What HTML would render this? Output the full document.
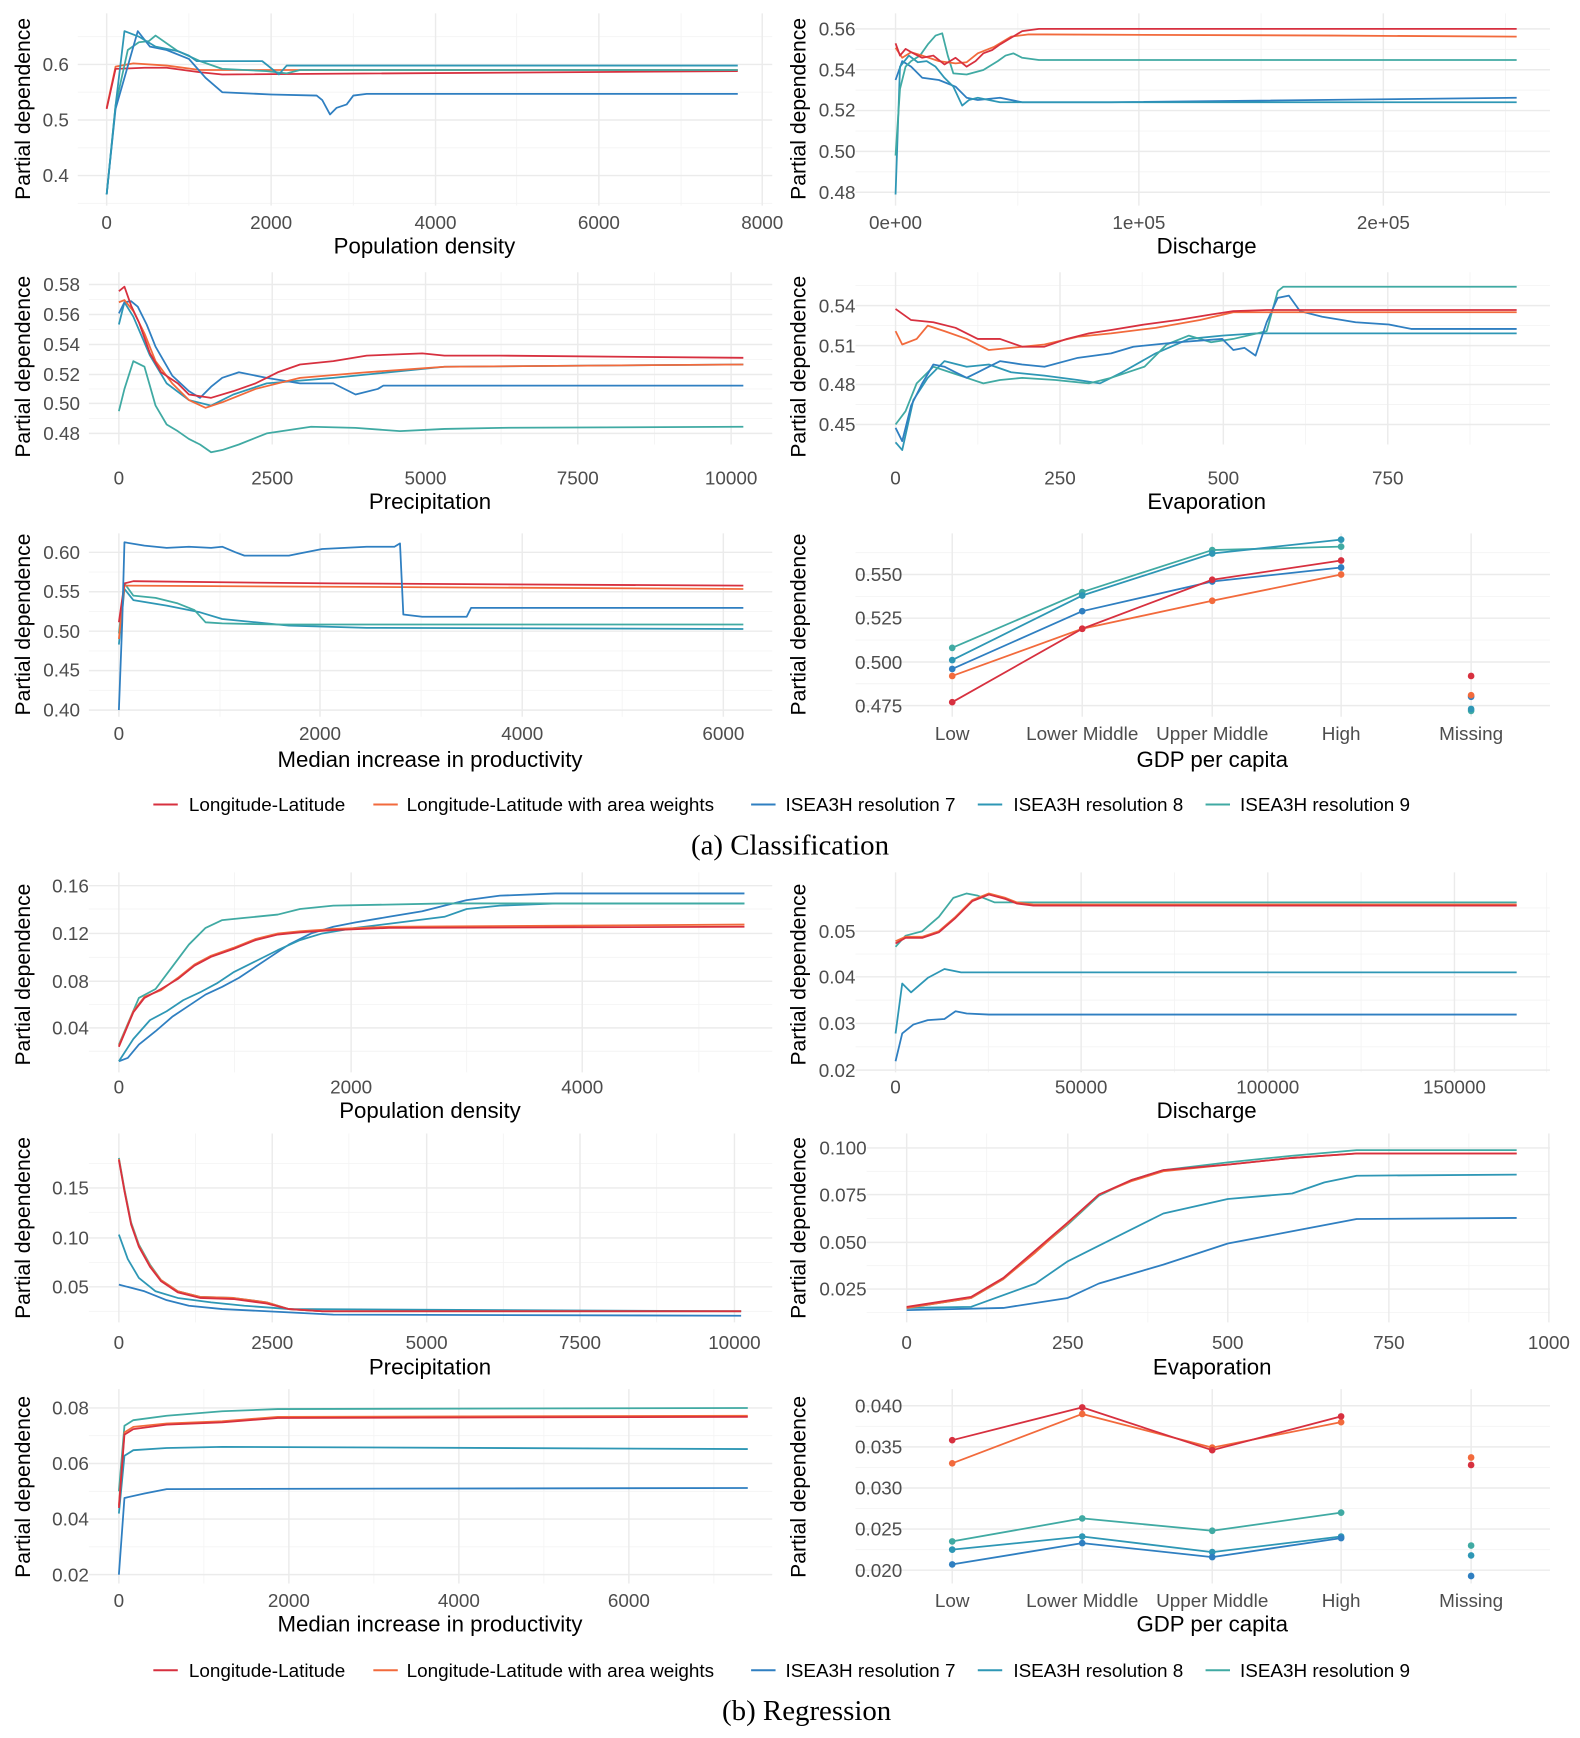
<!DOCTYPE html>
<html><head><meta charset="utf-8"><style>
html,body{margin:0;padding:0;background:#fff}
svg{display:block}
.t{font-family:"Liberation Sans Narrow","Liberation Sans",sans-serif;font-stretch:condensed;font-size:17px;fill:#4d4d4d}
.ti{font-family:"Liberation Sans Narrow","Liberation Sans",sans-serif;font-stretch:condensed;font-size:20px;fill:#000}
.yt{font-family:"Liberation Sans",sans-serif;font-size:19px;fill:#000}
.lg{font-family:"Liberation Sans Narrow","Liberation Sans",sans-serif;font-stretch:condensed;font-size:17px;fill:#000}
.cap{font-family:"Liberation Serif",serif;font-size:26px;fill:#000}
.M{stroke:#ebebeb;stroke-width:1.3}
.m{stroke:#f4f4f4;stroke-width:0.8}
polyline{fill:none;stroke-width:1.6;stroke-linejoin:round}
.a{stroke:#d7303f}.b{stroke:#f26a3c}.c{stroke:#2f7fc1}.d{stroke:#2e97b5}.e{stroke:#40aaa3}
.A{fill:#d7303f}.B{fill:#f26a3c}.C{fill:#2f7fc1}.D{fill:#2e97b5}.E{fill:#40aaa3}
</style></head><body>
<svg width="1580" height="1738" viewBox="0 0 1422 1564" preserveAspectRatio="none" xmlns="http://www.w3.org/2000/svg">
<!-- ================= A1 ================= -->
<g>
<line class="m" x1="70" x2="695" y1="33" y2="33"/><line class="m" x1="70" x2="695" y1="83" y2="83"/><line class="m" x1="70" x2="695" y1="133" y2="133"/><line class="m" x1="70" x2="695" y1="183" y2="183"/>
<line class="m" x1="170" x2="170" y1="12" y2="185"/><line class="m" x1="318" x2="318" y1="12" y2="185"/><line class="m" x1="465" x2="465" y1="12" y2="185"/><line class="m" x1="613" x2="613" y1="12" y2="185"/>
<line class="M" x1="70" x2="695" y1="58" y2="58"/><line class="M" x1="70" x2="695" y1="108" y2="108"/><line class="M" x1="70" x2="695" y1="158" y2="158"/>
<line class="M" x1="96" x2="96" y1="12" y2="185"/><line class="M" x1="244" x2="244" y1="12" y2="185"/><line class="M" x1="392" x2="392" y1="12" y2="185"/><line class="M" x1="539" x2="539" y1="12" y2="185"/><line class="M" x1="686" x2="686" y1="12" y2="185"/>
<text class="t" x="62" y="64" text-anchor="end">0.6</text><text class="t" x="62" y="114" text-anchor="end">0.5</text><text class="t" x="62" y="164" text-anchor="end">0.4</text>
<text class="t" x="96" y="206" text-anchor="middle">0</text><text class="t" x="244" y="206" text-anchor="middle">2000</text><text class="t" x="392" y="206" text-anchor="middle">4000</text><text class="t" x="539" y="206" text-anchor="middle">6000</text><text class="t" x="686" y="206" text-anchor="middle">8000</text>
<text class="ti" x="382" y="228" text-anchor="middle">Population density</text>
<text class="yt" transform="translate(27,98) rotate(-90)" text-anchor="middle">Partial dependence</text>
<polyline class="b" points="96,97 104,60 120,57 150,59 180,63 664,63"/>
<polyline class="a" points="96,98 104,62 130,61 150,61 180,65 200,67 664,64"/>
<polyline class="e" points="96,175 104,95 115,45 125,38 134,37 140,32 160,46 180,55 200,62 240,64 258,66 270,63 664,63"/>
<polyline class="c" points="96,175 104,98 124,28 135,42 150,45 170,53 185,70 200,83 244,85 285,86 290,90 297,103 303,97 312,94 318,86 330,84.5 664,84.5"/>
<polyline class="d" points="96,175 104,95 112,28 125,33 140,42 160,46 170,50 177,55 236,55 251,67 258,59 664,59"/>
</g>
<!-- ================= A2 ================= -->
<g>
<line class="m" x1="770" x2="1395" y1="44.4" y2="44.4"/><line class="m" x1="770" x2="1395" y1="81.1" y2="81.1"/><line class="m" x1="770" x2="1395" y1="117.9" y2="117.9"/><line class="m" x1="770" x2="1395" y1="154.6" y2="154.6"/>
<line class="m" x1="916" x2="916" y1="12" y2="185"/><line class="m" x1="1135" x2="1135" y1="12" y2="185"/><line class="m" x1="1355" x2="1355" y1="12" y2="185"/>
<line class="M" x1="770" x2="1395" y1="26" y2="26"/><line class="M" x1="770" x2="1395" y1="62.75" y2="62.75"/><line class="M" x1="770" x2="1395" y1="99.5" y2="99.5"/><line class="M" x1="770" x2="1395" y1="136.25" y2="136.25"/><line class="M" x1="770" x2="1395" y1="173" y2="173"/>
<line class="M" x1="806" x2="806" y1="12" y2="185"/><line class="M" x1="1025" x2="1025" y1="12" y2="185"/><line class="M" x1="1245" x2="1245" y1="12" y2="185"/>
<text class="t" x="770" y="32" text-anchor="end">0.56</text><text class="t" x="770" y="69" text-anchor="end">0.54</text><text class="t" x="770" y="105" text-anchor="end">0.52</text><text class="t" x="770" y="142" text-anchor="end">0.50</text><text class="t" x="770" y="179" text-anchor="end">0.48</text>
<text class="t" x="806" y="206" text-anchor="middle">0e+00</text><text class="t" x="1025" y="206" text-anchor="middle">1e+05</text><text class="t" x="1245" y="206" text-anchor="middle">2e+05</text>
<text class="ti" x="1086" y="228" text-anchor="middle">Discharge</text>
<text class="yt" transform="translate(725,98) rotate(-90)" text-anchor="middle">Partial dependence</text>
<polyline class="c" points="806,72 812,55 820,60 830,70 845,72 860,78 870,88 880,90 900,88 920,92 1000,92 1365,88"/>
<polyline class="d" points="806,175 810,60 818,50 826,56 834,55 842,60 850,70 858,78 866,95 872,90 880,88 890,90 900,92 1365,92"/>
<polyline class="e" points="806,140 810,80 815,60 820,55 828,50 835,40 842,32 848,30 853,50 858,66 870,67 885,63 898,55 905,50 912,48 920,52 935,54 1365,54"/>
<polyline class="b" points="806,43 812,52 820,47 830,50 845,55 860,57 870,56 880,48 895,42 910,33 925,31 940,31 1200,32 1365,33"/>
<polyline class="a" points="806,39 810,50 815,44 822,48 830,52 840,50 850,58 860,52 870,60 878,55 885,48 893,45 900,40 910,34 920,28 935,26 1365,26"/>
</g>
<!-- ================= A3 ================= -->
<g>
<line class="m" x1="80" x2="695" y1="269.5" y2="269.5"/><line class="m" x1="80" x2="695" y1="296.5" y2="296.5"/><line class="m" x1="80" x2="695" y1="323.5" y2="323.5"/><line class="m" x1="80" x2="695" y1="350" y2="350"/><line class="m" x1="80" x2="695" y1="376.5" y2="376.5"/>
<line class="m" x1="176" x2="176" y1="245" y2="400"/><line class="m" x1="314" x2="314" y1="245" y2="400"/><line class="m" x1="451" x2="451" y1="245" y2="400"/><line class="m" x1="589" x2="589" y1="245" y2="400"/>
<line class="M" x1="80" x2="695" y1="256" y2="256"/><line class="M" x1="80" x2="695" y1="283" y2="283"/><line class="M" x1="80" x2="695" y1="310" y2="310"/><line class="M" x1="80" x2="695" y1="337" y2="337"/><line class="M" x1="80" x2="695" y1="363" y2="363"/><line class="M" x1="80" x2="695" y1="390" y2="390"/>
<line class="M" x1="107" x2="107" y1="245" y2="400"/><line class="M" x1="245" x2="245" y1="245" y2="400"/><line class="M" x1="383" x2="383" y1="245" y2="400"/><line class="M" x1="520" x2="520" y1="245" y2="400"/><line class="M" x1="658" x2="658" y1="245" y2="400"/>
<text class="t" x="72" y="262" text-anchor="end">0.58</text><text class="t" x="72" y="289" text-anchor="end">0.56</text><text class="t" x="72" y="316" text-anchor="end">0.54</text><text class="t" x="72" y="343" text-anchor="end">0.52</text><text class="t" x="72" y="369" text-anchor="end">0.50</text><text class="t" x="72" y="396" text-anchor="end">0.48</text>
<text class="t" x="107" y="436" text-anchor="middle">0</text><text class="t" x="245" y="436" text-anchor="middle">2500</text><text class="t" x="383" y="436" text-anchor="middle">5000</text><text class="t" x="520" y="436" text-anchor="middle">7500</text><text class="t" x="658" y="436" text-anchor="middle">10000</text>
<text class="ti" x="387" y="458" text-anchor="middle">Precipitation</text>
<text class="yt" transform="translate(27,330) rotate(-90)" text-anchor="middle">Partial dependence</text>
<polyline class="e" points="107,370 112,350 120,325 130,330 140,365 150,382 160,388 170,395 180,400 190,407 200,405 215,400 240,390 280,384 320,385 360,388 400,386 450,385 669,384"/>
<polyline class="d" points="107,292 112,272 120,285 135,320 150,345 170,360 190,365 210,355 240,345 300,340 400,330 669,328"/>
<polyline class="c" points="107,282 112,272 118,271 124,276 132,292 140,312 155,338 170,352 180,358 190,348 200,340 215,335 240,340 270,345 300,345 320,355 340,350 345,347 669,347"/>
<polyline class="b" points="107,272 112,270 120,280 130,300 140,325 155,345 170,360 185,367 200,362 230,350 270,340 330,335 400,330 669,328"/>
<polyline class="a" points="107,262 112,258 118,275 125,290 135,318 145,335 160,345 170,355 190,358 210,352 230,345 250,335 270,328 300,325 330,320 380,318 400,320 450,320 669,322"/>
</g>
<!-- ================= A4 ================= -->
<g>
<line class="m" x1="770" x2="1395" y1="293" y2="293"/><line class="m" x1="770" x2="1395" y1="329" y2="329"/><line class="m" x1="770" x2="1395" y1="364" y2="364"/><line class="m" x1="770" x2="1395" y1="257" y2="257"/>
<line class="m" x1="880" x2="880" y1="245" y2="400"/><line class="m" x1="1028" x2="1028" y1="245" y2="400"/><line class="m" x1="1175" x2="1175" y1="245" y2="400"/><line class="m" x1="1323" x2="1323" y1="245" y2="400"/>
<line class="M" x1="770" x2="1395" y1="275" y2="275"/><line class="M" x1="770" x2="1395" y1="311" y2="311"/><line class="M" x1="770" x2="1395" y1="346" y2="346"/><line class="M" x1="770" x2="1395" y1="382" y2="382"/>
<line class="M" x1="806" x2="806" y1="245" y2="400"/><line class="M" x1="954" x2="954" y1="245" y2="400"/><line class="M" x1="1101" x2="1101" y1="245" y2="400"/><line class="M" x1="1249" x2="1249" y1="245" y2="400"/>
<text class="t" x="770" y="281" text-anchor="end">0.54</text><text class="t" x="770" y="317" text-anchor="end">0.51</text><text class="t" x="770" y="352" text-anchor="end">0.48</text><text class="t" x="770" y="388" text-anchor="end">0.45</text>
<text class="t" x="806" y="436" text-anchor="middle">0</text><text class="t" x="954" y="436" text-anchor="middle">250</text><text class="t" x="1101" y="436" text-anchor="middle">500</text><text class="t" x="1249" y="436" text-anchor="middle">750</text>
<text class="ti" x="1086" y="458" text-anchor="middle">Evaporation</text>
<text class="yt" transform="translate(725,330) rotate(-90)" text-anchor="middle">Partial dependence</text>
<polyline class="d" points="806,398 812,405 822,360 835,340 850,325 870,330 890,328 910,335 940,338 970,342 990,345 1010,335 1040,318 1070,305 1100,302 1130,300 1365,300"/>
<polyline class="e" points="806,382 815,370 825,345 840,330 855,335 870,340 885,345 900,342 920,340 950,342 980,345 1000,340 1030,330 1050,310 1070,302 1090,308 1110,305 1140,298 1150,262 1155,258 1365,258"/>
<polyline class="c" points="806,385 812,397 820,365 830,345 840,328 850,330 860,335 870,340 880,335 890,330 900,325 920,328 940,330 970,322 1000,318 1020,312 1060,308 1100,305 1110,315 1120,313 1130,320 1140,290 1150,268 1160,266 1170,280 1190,285 1220,290 1250,292 1270,296 1365,296"/>
<polyline class="b" points="806,298 812,310 825,305 835,293 850,298 870,305 890,315 910,313 940,310 970,303 1000,300 1040,295 1080,288 1110,281 1365,281"/>
<polyline class="a" points="806,278 820,288 840,290 860,295 880,305 900,305 920,312 940,312 960,305 980,300 1000,297 1030,292 1060,288 1090,283 1110,280 1140,279 1365,279"/>
</g>
<!-- ================= A5 ================= -->
<g>
<line class="m" x1="80" x2="695" y1="514.75" y2="514.75"/><line class="m" x1="80" x2="695" y1="550.25" y2="550.25"/><line class="m" x1="80" x2="695" y1="585.75" y2="585.75"/><line class="m" x1="80" x2="695" y1="621.25" y2="621.25"/>
<line class="m" x1="198" x2="198" y1="480" y2="645"/><line class="m" x1="379" x2="379" y1="480" y2="645"/><line class="m" x1="560" x2="560" y1="480" y2="645"/>
<line class="M" x1="80" x2="695" y1="497" y2="497"/><line class="M" x1="80" x2="695" y1="532.5" y2="532.5"/><line class="M" x1="80" x2="695" y1="568" y2="568"/><line class="M" x1="80" x2="695" y1="603.5" y2="603.5"/><line class="M" x1="80" x2="695" y1="639" y2="639"/>
<line class="M" x1="107" x2="107" y1="480" y2="645"/><line class="M" x1="288" x2="288" y1="480" y2="645"/><line class="M" x1="470" x2="470" y1="480" y2="645"/><line class="M" x1="651" x2="651" y1="480" y2="645"/>
<text class="t" x="72" y="503" text-anchor="end">0.60</text><text class="t" x="72" y="538" text-anchor="end">0.55</text><text class="t" x="72" y="574" text-anchor="end">0.50</text><text class="t" x="72" y="609" text-anchor="end">0.45</text><text class="t" x="72" y="645" text-anchor="end">0.40</text>
<text class="t" x="107" y="666" text-anchor="middle">0</text><text class="t" x="288" y="666" text-anchor="middle">2000</text><text class="t" x="470" y="666" text-anchor="middle">4000</text><text class="t" x="651" y="666" text-anchor="middle">6000</text>
<text class="ti" x="387" y="690" text-anchor="middle">Median increase in productivity</text>
<text class="yt" transform="translate(27,562) rotate(-90)" text-anchor="middle">Partial dependence</text>
<polyline class="d" points="107,580 112,530 120,540 150,545 180,551 200,557 230,560 260,563 330,565 669,566"/>
<polyline class="e" points="107,570 112,525 120,536 140,538 160,543 175,549 185,560 200,561 250,562 669,562"/>
<polyline class="b" points="107,575 112,527 669,530"/>
<polyline class="a" points="107,560 112,525 120,523 200,524 300,525 669,527"/>
<polyline class="c" points="107,639 110,560 112,488 130,491 150,493 170,492 190,493 200,492 212,497 220,500 240,500 260,500 270,498 290,494 330,492 355,492 360,489 363,553 380,555 420,555 424,547 669,547"/>
</g>
<!-- ================= A6 ================= -->
<g>
<line class="m" x1="770" x2="1395" y1="497.4" y2="497.4"/><line class="m" x1="770" x2="1395" y1="536.7" y2="536.7"/><line class="m" x1="770" x2="1395" y1="576" y2="576"/><line class="m" x1="770" x2="1395" y1="615.3" y2="615.3"/>
<line class="M" x1="770" x2="1395" y1="517" y2="517"/><line class="M" x1="770" x2="1395" y1="556.3" y2="556.3"/><line class="M" x1="770" x2="1395" y1="595.7" y2="595.7"/><line class="M" x1="770" x2="1395" y1="635" y2="635"/>
<line class="M" x1="857" x2="857" y1="480" y2="645"/><line class="M" x1="974" x2="974" y1="480" y2="645"/><line class="M" x1="1091" x2="1091" y1="480" y2="645"/><line class="M" x1="1207" x2="1207" y1="480" y2="645"/><line class="M" x1="1324" x2="1324" y1="480" y2="645"/>
<text class="t" x="812" y="523" text-anchor="end">0.550</text><text class="t" x="812" y="562" text-anchor="end">0.525</text><text class="t" x="812" y="602" text-anchor="end">0.500</text><text class="t" x="812" y="641" text-anchor="end">0.475</text>
<text class="t" x="857" y="666" text-anchor="middle">Low</text><text class="t" x="974" y="666" text-anchor="middle">Lower Middle</text><text class="t" x="1091" y="666" text-anchor="middle">Upper Middle</text><text class="t" x="1207" y="666" text-anchor="middle">High</text><text class="t" x="1324" y="666" text-anchor="middle">Missing</text>
<text class="ti" x="1091" y="690" text-anchor="middle">GDP per capita</text>
<text class="yt" transform="translate(725,562) rotate(-90)" text-anchor="middle">Partial dependence</text>
<polyline class="e" points="857,583 974,532.8 1091,495 1207,491.9"/>
<polyline class="d" points="857,594 974,535.9 1091,498.1 1207,485.6"/>
<polyline class="c" points="857,602 974,550 1091,523.3 1207,510.7"/>
<polyline class="b" points="857,608.3 974,565.8 1091,540.6 1207,517"/>
<polyline class="a" points="857,631.9 974,565.8 1091,521.7 1207,504.4"/>
<g class="E"><circle cx="857" cy="583" r="3"/><circle cx="974" cy="532.8" r="3"/><circle cx="1091" cy="495" r="3"/><circle cx="1207" cy="491.9" r="3"/><circle cx="1324" cy="639.7" r="3"/></g>
<g class="D"><circle cx="857" cy="594" r="3"/><circle cx="974" cy="535.9" r="3"/><circle cx="1091" cy="498.1" r="3"/><circle cx="1207" cy="485.6" r="3"/><circle cx="1324" cy="638" r="3"/></g>
<g class="C"><circle cx="857" cy="602" r="3"/><circle cx="974" cy="550" r="3"/><circle cx="1091" cy="523.3" r="3"/><circle cx="1207" cy="510.7" r="3"/><circle cx="1324" cy="627" r="3"/></g>
<g class="B"><circle cx="857" cy="608.3" r="3"/><circle cx="974" cy="565.8" r="3"/><circle cx="1091" cy="540.6" r="3"/><circle cx="1207" cy="517" r="3"/><circle cx="1324" cy="625.6" r="3"/></g>
<g class="A"><circle cx="857" cy="631.9" r="3"/><circle cx="974" cy="565.8" r="3"/><circle cx="1091" cy="521.7" r="3"/><circle cx="1207" cy="504.4" r="3"/><circle cx="1324" cy="608.3" r="3"/></g>
</g>
<!-- legend a -->
<g>
<line class="a" x1="138" x2="160" y1="724" y2="724" stroke-width="1.8"/><text class="lg" x="170" y="730">Longitude-Latitude</text>
<line class="b" x1="336" x2="358" y1="724" y2="724" stroke-width="1.8"/><text class="lg" x="366" y="730">Longitude-Latitude with area weights</text>
<line class="c" x1="676" x2="698" y1="724" y2="724" stroke-width="1.8"/><text class="lg" x="707" y="730">ISEA3H resolution 7</text>
<line class="d" x1="880" x2="902" y1="724" y2="724" stroke-width="1.8"/><text class="lg" x="912" y="730">ISEA3H resolution 8</text>
<line class="e" x1="1085" x2="1107" y1="724" y2="724" stroke-width="1.8"/><text class="lg" x="1116" y="730">ISEA3H resolution 9</text>
<text class="cap" x="711" y="769" text-anchor="middle">(a) Classification</text>
</g>

<!-- ================= B1 ================= -->
<g>
<line class="m" x1="80" x2="695" y1="818" y2="818"/><line class="m" x1="80" x2="695" y1="861.5" y2="861.5"/><line class="m" x1="80" x2="695" y1="904" y2="904"/><line class="m" x1="80" x2="695" y1="946" y2="946"/>
<line class="m" x1="211" x2="211" y1="785" y2="965"/><line class="m" x1="420" x2="420" y1="785" y2="965"/><line class="m" x1="629" x2="629" y1="785" y2="965"/>
<line class="M" x1="80" x2="695" y1="797" y2="797"/><line class="M" x1="80" x2="695" y1="840" y2="840"/><line class="M" x1="80" x2="695" y1="883" y2="883"/><line class="M" x1="80" x2="695" y1="925" y2="925"/>
<line class="M" x1="107" x2="107" y1="785" y2="965"/><line class="M" x1="316" x2="316" y1="785" y2="965"/><line class="M" x1="524" x2="524" y1="785" y2="965"/>
<text class="t" x="80" y="803" text-anchor="end">0.16</text><text class="t" x="80" y="846" text-anchor="end">0.12</text><text class="t" x="80" y="889" text-anchor="end">0.08</text><text class="t" x="80" y="931" text-anchor="end">0.04</text>
<text class="t" x="107" y="984" text-anchor="middle">0</text><text class="t" x="316" y="984" text-anchor="middle">2000</text><text class="t" x="524" y="984" text-anchor="middle">4000</text>
<text class="ti" x="387" y="1006" text-anchor="middle">Population density</text>
<text class="yt" transform="translate(27,877) rotate(-90)" text-anchor="middle">Partial dependence</text>
<polyline class="c" points="107,955 115,952 125,940 140,928 155,915 170,905 185,895 200,888 215,880 230,870 245,860 260,850 280,840 300,834 320,830 350,825 380,820 400,815 420,810 450,806 500,804 670,804"/>
<polyline class="d" points="107,955 120,935 135,918 150,910 165,900 180,893 195,885 210,875 230,865 250,855 270,846 290,840 320,835 360,830 400,825 420,818 450,815 500,813 670,813"/>
<polyline class="e" points="107,940 125,898 140,890 155,870 170,850 185,835 200,828 220,826 250,823 270,818 300,815 400,813 670,813"/>
<polyline class="b" points="107,941 120,910 130,897 145,891 160,880 175,868 190,860 210,853 230,845 250,840 270,838 300,836 350,834 670,832"/>
<polyline class="a" points="107,942 120,911 130,898 145,890 160,881 175,869 190,861 210,854 230,846 250,841 270,839 300,837 350,835 670,834"/>
</g>
<!-- ================= B2 ================= -->
<g>
<line class="m" x1="770" x2="1395" y1="817" y2="817"/><line class="m" x1="770" x2="1395" y1="858.5" y2="858.5"/><line class="m" x1="770" x2="1395" y1="900" y2="900"/><line class="m" x1="770" x2="1395" y1="942" y2="942"/>
<line class="m" x1="889.5" x2="889.5" y1="785" y2="965"/><line class="m" x1="1057" x2="1057" y1="785" y2="965"/><line class="m" x1="1225" x2="1225" y1="785" y2="965"/><line class="m" x1="1392" x2="1392" y1="785" y2="965"/>
<line class="M" x1="770" x2="1395" y1="838" y2="838"/><line class="M" x1="770" x2="1395" y1="879" y2="879"/><line class="M" x1="770" x2="1395" y1="921" y2="921"/><line class="M" x1="770" x2="1395" y1="963" y2="963"/>
<line class="M" x1="806" x2="806" y1="785" y2="965"/><line class="M" x1="973" x2="973" y1="785" y2="965"/><line class="M" x1="1141" x2="1141" y1="785" y2="965"/><line class="M" x1="1309" x2="1309" y1="785" y2="965"/>
<text class="t" x="770" y="844" text-anchor="end">0.05</text><text class="t" x="770" y="885" text-anchor="end">0.04</text><text class="t" x="770" y="927" text-anchor="end">0.03</text><text class="t" x="770" y="969" text-anchor="end">0.02</text>
<text class="t" x="806" y="984" text-anchor="middle">0</text><text class="t" x="973" y="984" text-anchor="middle">50000</text><text class="t" x="1141" y="984" text-anchor="middle">100000</text><text class="t" x="1309" y="984" text-anchor="middle">150000</text>
<text class="ti" x="1086" y="1006" text-anchor="middle">Discharge</text>
<text class="yt" transform="translate(725,877) rotate(-90)" text-anchor="middle">Partial dependence</text>
<polyline class="c" points="806,955 812,930 822,922 835,918 850,917 860,910 870,912 890,913 1365,913"/>
<polyline class="d" points="806,930 812,885 820,893 835,880 850,872 865,875 880,875 1365,875"/>
<polyline class="e" points="806,852 815,842 830,838 845,825 858,808 870,804 880,806 895,812 910,812 1365,812"/>
<polyline class="b" points="806,847 815,843 830,843 845,838 860,825 875,810 890,804 905,808 915,812 930,814 1365,814"/>
<polyline class="a" points="806,849 815,844 830,844 845,839 860,826 875,811 890,805 905,809 915,813 930,815 1365,815"/>
</g>
<!-- ================= B3 ================= -->
<g>
<line class="m" x1="80" x2="695" y1="1091" y2="1091"/><line class="m" x1="80" x2="695" y1="1136" y2="1136"/><line class="m" x1="80" x2="695" y1="1180" y2="1180"/><line class="m" x1="80" x2="695" y1="1047" y2="1047"/>
<line class="m" x1="176" x2="176" y1="1020" y2="1190"/><line class="m" x1="314" x2="314" y1="1020" y2="1190"/><line class="m" x1="453" x2="453" y1="1020" y2="1190"/><line class="m" x1="591" x2="591" y1="1020" y2="1190"/>
<line class="M" x1="80" x2="695" y1="1069" y2="1069"/><line class="M" x1="80" x2="695" y1="1114" y2="1114"/><line class="M" x1="80" x2="695" y1="1158" y2="1158"/>
<line class="M" x1="107" x2="107" y1="1020" y2="1190"/><line class="M" x1="245" x2="245" y1="1020" y2="1190"/><line class="M" x1="384" x2="384" y1="1020" y2="1190"/><line class="M" x1="522" x2="522" y1="1020" y2="1190"/><line class="M" x1="661" x2="661" y1="1020" y2="1190"/>
<text class="t" x="80" y="1075" text-anchor="end">0.15</text><text class="t" x="80" y="1120" text-anchor="end">0.10</text><text class="t" x="80" y="1164" text-anchor="end">0.05</text>
<text class="t" x="107" y="1214" text-anchor="middle">0</text><text class="t" x="245" y="1214" text-anchor="middle">2500</text><text class="t" x="384" y="1214" text-anchor="middle">5000</text><text class="t" x="522" y="1214" text-anchor="middle">7500</text><text class="t" x="661" y="1214" text-anchor="middle">10000</text>
<text class="ti" x="387" y="1237" text-anchor="middle">Precipitation</text>
<text class="yt" transform="translate(27,1105) rotate(-90)" text-anchor="middle">Partial dependence</text>
<polyline class="c" points="107,1156 130,1162 150,1170 170,1175 200,1178 240,1180 300,1183 667,1184"/>
<polyline class="d" points="107,1111 115,1133 125,1150 140,1162 160,1168 190,1172 220,1175 260,1178 667,1180"/>
<polyline class="e" points="107,1042 112,1070 118,1100 125,1120 135,1138 145,1152 160,1162 180,1167 210,1168 240,1172 260,1178 290,1180 667,1180"/>
<polyline class="b" points="107,1043 112,1071 118,1101 125,1121 135,1139 145,1152 160,1162 180,1167 210,1168 240,1172 260,1178 290,1180 667,1180"/>
<polyline class="a" points="107,1044 112,1072 118,1102 125,1122 135,1140 145,1153 160,1163 180,1168 210,1169 240,1173 260,1178 290,1180 667,1180"/>
</g>
<!-- ================= B4 ================= -->
<g>
<line class="m" x1="780" x2="1395" y1="1054" y2="1054"/><line class="m" x1="780" x2="1395" y1="1096.5" y2="1096.5"/><line class="m" x1="780" x2="1395" y1="1139" y2="1139"/><line class="m" x1="780" x2="1395" y1="1181" y2="1181"/>
<line class="m" x1="888" x2="888" y1="1020" y2="1190"/><line class="m" x1="1033" x2="1033" y1="1020" y2="1190"/><line class="m" x1="1177" x2="1177" y1="1020" y2="1190"/><line class="m" x1="1322" x2="1322" y1="1020" y2="1190"/>
<line class="M" x1="780" x2="1395" y1="1033" y2="1033"/><line class="M" x1="780" x2="1395" y1="1075" y2="1075"/><line class="M" x1="780" x2="1395" y1="1118" y2="1118"/><line class="M" x1="780" x2="1395" y1="1160" y2="1160"/>
<line class="M" x1="816" x2="816" y1="1020" y2="1190"/><line class="M" x1="961" x2="961" y1="1020" y2="1190"/><line class="M" x1="1105" x2="1105" y1="1020" y2="1190"/><line class="M" x1="1250" x2="1250" y1="1020" y2="1190"/><line class="M" x1="1394" x2="1394" y1="1020" y2="1190"/>
<text class="t" x="780" y="1039" text-anchor="end">0.100</text><text class="t" x="780" y="1081" text-anchor="end">0.075</text><text class="t" x="780" y="1124" text-anchor="end">0.050</text><text class="t" x="780" y="1166" text-anchor="end">0.025</text>
<text class="t" x="816" y="1214" text-anchor="middle">0</text><text class="t" x="961" y="1214" text-anchor="middle">250</text><text class="t" x="1105" y="1214" text-anchor="middle">500</text><text class="t" x="1250" y="1214" text-anchor="middle">750</text><text class="t" x="1394" y="1214" text-anchor="middle">1000</text>
<text class="ti" x="1091" y="1237" text-anchor="middle">Evaporation</text>
<text class="yt" transform="translate(725,1105) rotate(-90)" text-anchor="middle">Partial dependence</text>
<polyline class="c" points="816,1179 903,1177 961,1168 989,1155 1047,1138 1105,1119 1163,1108 1221,1097 1365,1096"/>
<polyline class="d" points="816,1177 874,1176 932,1155 961,1135 989,1121 1047,1092 1105,1079 1163,1074 1192,1064 1221,1058 1365,1057"/>
<polyline class="e" points="816,1177 874,1168 903,1151 932,1126 961,1102 989,1076 1018,1062 1047,1053 1105,1046 1163,1040 1221,1035 1365,1035"/>
<polyline class="b" points="816,1177 874,1168 903,1151 932,1127 961,1101 989,1075 1018,1063 1047,1054 1105,1048 1163,1042 1221,1038 1365,1038"/>
<polyline class="a" points="816,1176 874,1167 903,1150 932,1125 961,1100 989,1075 1018,1062 1047,1053 1105,1048 1163,1042 1221,1038 1365,1038"/>
</g>
<!-- ================= B5 ================= -->
<g>
<line class="m" x1="80" x2="695" y1="1392" y2="1392"/><line class="m" x1="80" x2="695" y1="1342" y2="1342"/><line class="m" x1="80" x2="695" y1="1292" y2="1292"/>
<line class="m" x1="183.5" x2="183.5" y1="1250" y2="1425"/><line class="m" x1="336.5" x2="336.5" y1="1250" y2="1425"/><line class="m" x1="489.5" x2="489.5" y1="1250" y2="1425"/><line class="m" x1="642.5" x2="642.5" y1="1250" y2="1425"/>
<line class="M" x1="80" x2="695" y1="1417" y2="1417"/><line class="M" x1="80" x2="695" y1="1367" y2="1367"/><line class="M" x1="80" x2="695" y1="1317" y2="1317"/><line class="M" x1="80" x2="695" y1="1267" y2="1267"/>
<line class="M" x1="107" x2="107" y1="1250" y2="1425"/><line class="M" x1="260" x2="260" y1="1250" y2="1425"/><line class="M" x1="413" x2="413" y1="1250" y2="1425"/><line class="M" x1="566" x2="566" y1="1250" y2="1425"/>
<text class="t" x="80" y="1273" text-anchor="end">0.08</text><text class="t" x="80" y="1323" text-anchor="end">0.06</text><text class="t" x="80" y="1373" text-anchor="end">0.04</text><text class="t" x="80" y="1423" text-anchor="end">0.02</text>
<text class="t" x="107" y="1446" text-anchor="middle">0</text><text class="t" x="260" y="1446" text-anchor="middle">2000</text><text class="t" x="413" y="1446" text-anchor="middle">4000</text><text class="t" x="566" y="1446" text-anchor="middle">6000</text>
<text class="ti" x="387" y="1468" text-anchor="middle">Median increase in productivity</text>
<text class="yt" transform="translate(27,1338) rotate(-90)" text-anchor="middle">Partial dependence</text>
<polyline class="c" points="107,1417 112,1348 130,1344 150,1340 673,1339"/>
<polyline class="d" points="107,1362 112,1310 120,1305 150,1303 200,1302 673,1304"/>
<polyline class="e" points="107,1342 112,1283 120,1278 150,1274 200,1270 250,1268 673,1267"/>
<polyline class="b" points="107,1355 112,1289 120,1284 150,1281 200,1279 250,1275 673,1274"/>
<polyline class="a" points="107,1357 112,1291 120,1286 150,1282 200,1280 250,1276 673,1275"/>
</g>
<!-- ================= B6 ================= -->
<g>
<line class="m" x1="770" x2="1395" y1="1283.5" y2="1283.5"/><line class="m" x1="770" x2="1395" y1="1320.5" y2="1320.5"/><line class="m" x1="770" x2="1395" y1="1357.5" y2="1357.5"/><line class="m" x1="770" x2="1395" y1="1394.5" y2="1394.5"/>
<line class="M" x1="770" x2="1395" y1="1265" y2="1265"/><line class="M" x1="770" x2="1395" y1="1302" y2="1302"/><line class="M" x1="770" x2="1395" y1="1339" y2="1339"/><line class="M" x1="770" x2="1395" y1="1376" y2="1376"/><line class="M" x1="770" x2="1395" y1="1413" y2="1413"/>
<line class="M" x1="857" x2="857" y1="1250" y2="1425"/><line class="M" x1="974" x2="974" y1="1250" y2="1425"/><line class="M" x1="1091" x2="1091" y1="1250" y2="1425"/><line class="M" x1="1207" x2="1207" y1="1250" y2="1425"/><line class="M" x1="1324" x2="1324" y1="1250" y2="1425"/>
<text class="t" x="812" y="1271" text-anchor="end">0.040</text><text class="t" x="812" y="1308" text-anchor="end">0.035</text><text class="t" x="812" y="1345" text-anchor="end">0.030</text><text class="t" x="812" y="1382" text-anchor="end">0.025</text><text class="t" x="812" y="1419" text-anchor="end">0.020</text>
<text class="t" x="857" y="1446" text-anchor="middle">Low</text><text class="t" x="974" y="1446" text-anchor="middle">Lower Middle</text><text class="t" x="1091" y="1446" text-anchor="middle">Upper Middle</text><text class="t" x="1207" y="1446" text-anchor="middle">High</text><text class="t" x="1324" y="1446" text-anchor="middle">Missing</text>
<text class="ti" x="1091" y="1468" text-anchor="middle">GDP per capita</text>
<text class="yt" transform="translate(725,1338) rotate(-90)" text-anchor="middle">Partial dependence</text>
<polyline class="e" points="857,1387.1 974,1366.4 1091,1377.5 1207,1361.2"/>
<polyline class="d" points="857,1394.5 974,1382.7 1091,1396.7 1207,1382.7"/>
<polyline class="c" points="857,1407.8 974,1388.6 1091,1401.2 1207,1384.1"/>
<polyline class="b" points="857,1316.8 974,1272.4 1091,1302.7 1207,1279.8"/>
<polyline class="a" points="857,1296 974,1266.5 1091,1305 1207,1274.6"/>
<g class="E"><circle cx="857" cy="1387.1" r="3"/><circle cx="974" cy="1366.4" r="3"/><circle cx="1091" cy="1377.5" r="3"/><circle cx="1207" cy="1361.2" r="3"/><circle cx="1324" cy="1390.8" r="3"/></g>
<g class="D"><circle cx="857" cy="1394.5" r="3"/><circle cx="974" cy="1382.7" r="3"/><circle cx="1091" cy="1396.7" r="3"/><circle cx="1207" cy="1382.7" r="3"/><circle cx="1324" cy="1399.7" r="3"/></g>
<g class="C"><circle cx="857" cy="1407.8" r="3"/><circle cx="974" cy="1388.6" r="3"/><circle cx="1091" cy="1401.2" r="3"/><circle cx="1207" cy="1384.1" r="3"/><circle cx="1324" cy="1418.2" r="3"/></g>
<g class="B"><circle cx="857" cy="1316.8" r="3"/><circle cx="974" cy="1272.4" r="3"/><circle cx="1091" cy="1302.7" r="3"/><circle cx="1207" cy="1279.8" r="3"/><circle cx="1324" cy="1311.6" r="3"/></g>
<g class="A"><circle cx="857" cy="1296" r="3"/><circle cx="974" cy="1266.5" r="3"/><circle cx="1091" cy="1305" r="3"/><circle cx="1207" cy="1274.6" r="3"/><circle cx="1324" cy="1318.3" r="3"/></g>
</g>
<!-- legend b -->
<g>
<line class="a" x1="138" x2="160" y1="1503" y2="1503" stroke-width="1.8"/><text class="lg" x="170" y="1509">Longitude-Latitude</text>
<line class="b" x1="336" x2="358" y1="1503" y2="1503" stroke-width="1.8"/><text class="lg" x="366" y="1509">Longitude-Latitude with area weights</text>
<line class="c" x1="676" x2="698" y1="1503" y2="1503" stroke-width="1.8"/><text class="lg" x="707" y="1509">ISEA3H resolution 7</text>
<line class="d" x1="880" x2="902" y1="1503" y2="1503" stroke-width="1.8"/><text class="lg" x="912" y="1509">ISEA3H resolution 8</text>
<line class="e" x1="1085" x2="1107" y1="1503" y2="1503" stroke-width="1.8"/><text class="lg" x="1116" y="1509">ISEA3H resolution 9</text>
<text class="cap" x="726" y="1548" text-anchor="middle">(b) Regression</text>
</g>
</svg>
</body></html>
